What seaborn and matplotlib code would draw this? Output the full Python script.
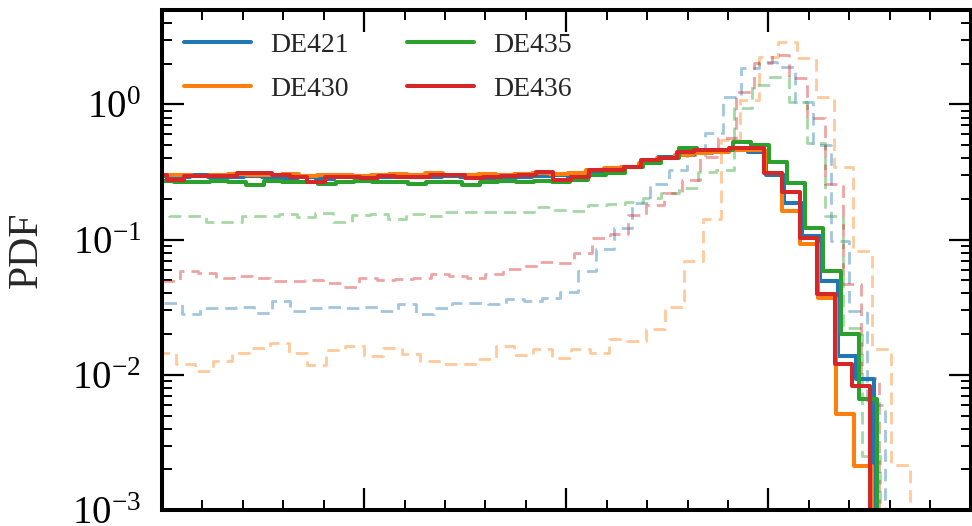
import numpy as np
import pandas as pd
import matplotlib
matplotlib.use("Agg")
import matplotlib.pyplot as plt
import seaborn as sns
from matplotlib.ticker import MultipleLocator, LogLocator, NullFormatter

# ---------------- data ----------------
series_names = ["DE421", "DE430", "DE435", "DE436"]
series_colors = ["#1f77b4", "#ff7f0e", "#2ca02c", "#d62728"]

# solid histograms: first bin edge, bin width, PDF per bin
solid_start = [-0.038, -0.028, -0.031, -0.0645]
solid_width = [0.089, 0.0885, 0.0892, 0.087]

solid_DE421 = [0.295, 0.289, 0.30, 0.289, 0.289, 0.294, 0.289, 0.284, 0.289, 0.28,
               0.289, 0.294, 0.289, 0.289, 0.299, 0.289, 0.294, 0.289, 0.284, 0.289,
               0.289, 0.294, 0.299, 0.289, 0.31, 0.326, 0.343, 0.367, 0.407, 0.421,
               0.436, 0.459, 0.459, 0.443, 0.30, 0.188, 0.107, 0.0496, 0.0137, 0.0093,
               1e-5]
solid_DE430 = [0.30, 0.30, 0.294, 0.30, 0.305, 0.30, 0.299, 0.305, 0.294, 0.299,
               0.30, 0.294, 0.30, 0.305, 0.30, 0.31, 0.299, 0.30, 0.305, 0.30,
               0.305, 0.31, 0.305, 0.31, 0.326, 0.337, 0.343, 0.367, 0.40, 0.421,
               0.436, 0.443, 0.459, 0.459, 0.31, 0.164, 0.0935, 0.037, 0.0051, 0.00213,
               1e-5]
solid_DE435 = [0.27, 0.265, 0.265, 0.27, 0.265, 0.252, 0.27, 0.265, 0.265, 0.26,
               0.265, 0.27, 0.265, 0.265, 0.26, 0.265, 0.265, 0.255, 0.265, 0.27,
               0.265, 0.27, 0.265, 0.275, 0.299, 0.31, 0.343, 0.367, 0.40, 0.475,
               0.459, 0.459, 0.526, 0.50, 0.374, 0.261, 0.121, 0.0589, 0.020, 0.00657,
               1e-5]
solid_DE436 = [0.299, 0.275, 0.294, 0.294, 0.294, 0.310, 0.310, 0.300, 0.289, 0.265,
               0.289, 0.289, 0.284, 0.294, 0.289, 0.289, 0.299, 0.299, 0.284, 0.289,
               0.294, 0.299, 0.315, 0.275, 0.289, 0.326, 0.326, 0.343, 0.387, 0.400,
               0.443, 0.459, 0.459, 0.475, 0.475, 0.310, 0.224, 0.102, 0.0397, 0.0120,
               0.0082, 1e-5]

# dashed (faint) histograms
dashed_start = [0.0084, -0.025, -0.053, 0.0]
dashed_width = [0.0892, 0.0931, 0.0901, 0.0887]

dashed_DE421 = [0.034, 0.028, 0.031, 0.031, 0.032, 0.0287, 0.0352, 0.0296, 0.031, 0.032,
                0.031, 0.0317, 0.0296, 0.0337, 0.028, 0.031, 0.034, 0.034, 0.0337, 0.0365,
                0.0352, 0.0368, 0.0408, 0.0589, 0.0855, 0.123, 0.188, 0.26, 0.326, 0.421,
                0.61, 1.14, 1.87, 2.07, 1.9, 1.04, 0.5, 0.098, 0.0296, 0.006,
                1e-5]
dashed_DE430 = [0.0145, 0.012, 0.0106, 0.0126, 0.0145, 0.0159, 0.0172, 0.0145, 0.0119, 0.0152,
                0.0164, 0.0137, 0.0159, 0.0142, 0.0126, 0.0121, 0.0121, 0.013, 0.0164, 0.014,
                0.0155, 0.0133, 0.0155, 0.0145, 0.0184, 0.0177, 0.022, 0.0318, 0.0698, 0.143,
                0.545, 1.08, 2.25, 2.92, 2.2, 1.14, 0.343, 0.083, 0.0155, 0.00215,
                1e-5]
dashed_DE435 = [0.156, 0.150, 0.150, 0.136, 0.134, 0.150, 0.150, 0.156, 0.146, 0.158,
                0.136, 0.153, 0.156, 0.143, 0.156, 0.150, 0.159, 0.159, 0.159, 0.159,
                0.159, 0.173, 0.167, 0.164, 0.179, 0.185, 0.189, 0.205, 0.22, 0.24,
                0.315, 0.326, 0.94, 1.4, 1.6, 1.04, 0.517, 0.150, 0.0222, 0.0025,
                1e-5]
dashed_DE436 = [0.0496, 0.0589, 0.0567, 0.0521, 0.054, 0.0521, 0.0496, 0.0496, 0.05, 0.0478,
                0.045, 0.052, 0.050, 0.051, 0.052, 0.0557, 0.054, 0.052, 0.0557, 0.0604,
                0.0636, 0.0685, 0.067, 0.080, 0.102, 0.111, 0.151, 0.179, 0.22, 0.275,
                0.407, 0.564, 1.24, 2.03, 2.33, 1.57, 0.79, 0.26, 0.047, 0.0094,
                1e-5]

solid_values = [solid_DE421, solid_DE430, solid_DE435, solid_DE436]
dashed_values = [dashed_DE421, dashed_DE430, dashed_DE435, dashed_DE436]

y_label = "PDF"

# ---------------- style ----------------
sns.set_theme(style="ticks")
plt.rcParams["font.family"] = ["Liberation Serif", "DejaVu Serif"]
plt.rcParams["mathtext.fontset"] = "stix"

fig = plt.figure(figsize=(9.72, 5.26), dpi=100)
ax = fig.add_axes([162 / 972, 16 / 526, 808.5 / 972, 500 / 526])


def draw(values, start, width, color, **kw):
    n = len(values)
    edges = start + width * np.arange(n + 1)
    centers = 0.5 * (edges[:-1] + edges[1:])
    df = pd.DataFrame({"x": centers, "w": values})
    sns.histplot(data=df, x="x", weights="w", bins=[float(e) for e in edges],
                 element="step", fill=False, color=color, ax=ax, **kw)


# faint dashed histograms underneath
for vals, s, w, c in zip(dashed_values, dashed_start, dashed_width, series_colors):
    draw(vals, s, w, c, linewidth=2.0, alpha=0.42, linestyle=(0, (4.5, 2.5)),
         label="_nolegend_")

# solid histograms on top
for vals, s, w, c, name in zip(solid_values, solid_start, solid_width,
                               series_colors, series_names):
    draw(vals, s, w, c, linewidth=2.9, label=name)

ax.set_yscale("log")
ax.set_xlim(0, 4)
ax.set_ylim(1e-3, 5)

ax.xaxis.set_major_locator(MultipleLocator(1))
ax.xaxis.set_minor_locator(MultipleLocator(0.2))
ax.yaxis.set_major_locator(LogLocator(base=10, numticks=10))
ax.yaxis.set_minor_locator(LogLocator(base=10, subs=np.arange(2, 10), numticks=20))
ax.yaxis.set_minor_formatter(NullFormatter())

ax.tick_params(which="both", direction="in", top=True, right=True,
               labelbottom=False, colors="black")
ax.tick_params(which="major", length=16, width=1.6, labelsize=28, pad=15)
ax.tick_params(which="minor", length=7.5, width=1.4)

for sp in ax.spines.values():
    sp.set_linewidth(2.9)
    sp.set_color("black")

ax.set_xlabel("")
ax.set_ylabel(y_label, fontsize=30)
ax.yaxis.set_label_coords(-0.1435, 0.52)

handles, labels = ax.get_legend_handles_labels()
ax.legend(handles, labels, ncol=2, loc="upper left", frameon=False,
          fontsize=20, handlelength=2.4, handletextpad=0.7,
          columnspacing=2.1, labelspacing=0.68, borderaxespad=0.35,
          borderpad=0.45)

fig.savefig("out.png", dpi=100)
